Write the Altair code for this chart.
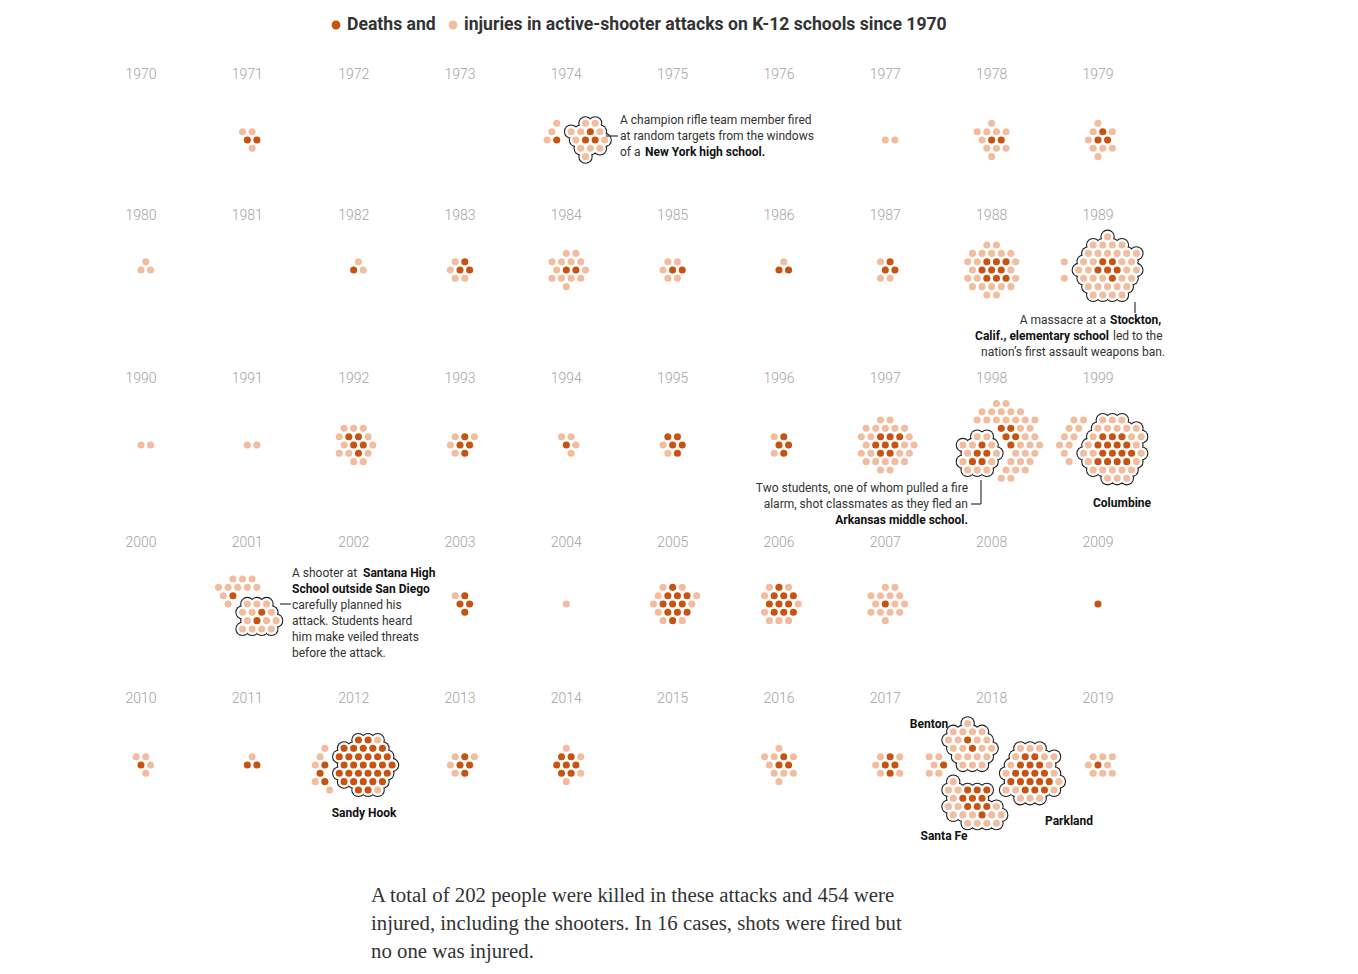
import math
import altair as alt
import pandas as pd

# ---------------- data ----------------
years = list(range(1970, 2020))
# deaths / injuries of the attacks that are not singled out, per year
deaths = [0, 2, 0, 0, 1, 0, 0, 0, 2, 3,
          0, 0, 1, 3, 2, 2, 2, 3, 9, 0,
          0, 0, 5, 4, 1, 5, 4, 8, 5, 0,
          0, 1, 0, 4, 0, 11, 10, 1, 0, 1,
          1, 2, 3, 4, 7, 0, 3, 4, 1, 1]
injuries = [0, 3, 0, 0, 3, 0, 0, 2, 10, 8,
            3, 0, 2, 4, 13, 5, 1, 3, 22, 2,
            2, 2, 12, 4, 4, 2, 2, 24, 32, 10,
            0, 10, 0, 1, 1, 9, 8, 14, 0, 0,
            4, 1, 5, 4, 4, 0, 9, 5, 5, 8]
# highlighted attacks
hl_names = ["Olean", "Stockton", "Jonesboro", "Columbine", "Santana",
            "Sandy Hook", "Benton", "Parkland", "Santa Fe"]
hl_years = [1974, 1989, 1998, 1999, 2001, 2012, 2018, 2018, 2018]
hl_deaths = [3, 6, 5, 15, 2, 32, 2, 17, 10]
hl_injuries = [11, 33, 12, 26, 13, 2, 20, 17, 16]

title_a = "Deaths and"
title_b = "injuries in active-shooter attacks on K-12 schools since 1970"
footer_lines = [
    "A total of 202 people were killed in these attacks and 454 were",
    "injured, including the shooters. In 16 cases, shots were fired but",
    "no one was injured.",
]

# ---------------- layout (positions / styles) ----------------
DARK = "#c8520f"
LIGHT = "#f2bc9f"
COL_X0, COL_DX = 141, 106.33
ROW_LABEL_Y = [75, 216, 379, 543, 699]
ROW_DOT_Y = [140, 270, 445, 604, 765]
S = 9.6
H = S * math.sqrt(3) / 2

hl_offset = {"Olean": (22, -2), "Stockton": (10, -2), "Jonesboro": (-13, 9),
             "Columbine": (15, 5), "Santana": (10, 13), "Sandy Hook": (10, 0),
             "Benton": (-21, -19), "Parkland": (39, 10), "Santa Fe": (-14, 32)}
other_offset = {1974: (-10, -5), 1989: (-24, 0), 1998: (11, -3), 1999: (-15, -5),
                2001: (-7, -9), 2012: (-21, 3), 2018: (-47, 0)}


def lattice(cx, cy, r=14):
    pts = []
    for j in range(-r, r + 1):
        for i in range(-r, r + 1):
            pts.append((cx + (i + 0.5 * (j % 2)) * S, cy + j * H))
    return pts


def place(pts, used, center, n, blocked, min_d):
    cand = []
    for p in pts:
        if p in used:
            continue
        if any(math.hypot(p[0] - q[0], p[1] - q[1]) < min_d for q in blocked):
            continue
        d = math.hypot(p[0] - center[0], p[1] - center[1])
        a = math.atan2(p[1] - center[1], p[0] - center[0])
        cand.append((round(d, 5), round(abs(a), 5), a, p))
    cand.sort()
    chosen = [c[3] for c in cand[:n]]
    used.update(chosen)
    return chosen


rows = []
labels = []
for idx, yr in enumerate(years):
    r, c = divmod(idx, 10)
    cx = COL_X0 + c * COL_DX
    cy = ROW_DOT_Y[r]
    labels.append({"x": cx, "y": ROW_LABEL_Y[r], "t": str(yr)})
    pts = lattice(cx, cy)
    used = set()
    hl_pts = []
    for k, name in enumerate(hl_names):
        if hl_years[k] != yr:
            continue
        ox, oy = hl_offset[name]
        ch = place(pts, used, (cx + ox, cy + oy), hl_deaths[k] + hl_injuries[k],
                   hl_pts, 2 * S - 0.1)
        for m, p in enumerate(ch):
            rows.append({"x": p[0], "y": p[1],
                         "kind": "death" if m < hl_deaths[k] else "injury",
                         "hl": True})
        hl_pts.extend(ch)
    n = deaths[idx] + injuries[idx]
    if n:
        ox, oy = other_offset.get(yr, (0, 0))
        ch = place(pts, used, (cx + ox, cy + oy), n, hl_pts, 1.5 * S)
        for m, p in enumerate(ch):
            rows.append({"x": p[0], "y": p[1],
                         "kind": "death" if m < deaths[idx] else "injury",
                         "hl": False})

dots = pd.DataFrame(rows)
hl_dots = dots[dots["hl"]]
labels_df = pd.DataFrame(labels)

# annotation text pieces: text, x, y, align, weight
notes = [
    ("A champion rifle team member fired", 620, 120, "left", "normal"),
    ("at random targets from the windows", 620, 136, "left", "normal"),
    ("of a", 620, 152, "left", "normal"),
    ("New York high school.", 645, 152, "left", "bold"),
    ("A massacre at a", 1106, 320, "right", "normal"),
    ("Stockton,", 1110, 320, "left", "bold"),
    ("Calif., elementary school", 1109, 336, "right", "bold"),
    ("led to the", 1113, 336, "left", "normal"),
    ("nation\u2019s first assault weapons ban.", 1165, 352, "right", "normal"),
    ("Two students, one of whom pulled a fire", 968, 488, "right", "normal"),
    ("alarm, shot classmates as they fled an", 968, 504, "right", "normal"),
    ("Arkansas middle school.", 968, 520, "right", "bold"),
    ("A shooter at", 292, 573, "left", "normal"),
    ("Santana High", 363, 573, "left", "bold"),
    ("School outside San Diego", 292, 589, "left", "bold"),
    ("carefully planned his", 292, 605, "left", "normal"),
    ("attack. Students heard", 292, 621, "left", "normal"),
    ("him make veiled threats", 292, 637, "left", "normal"),
    ("before the attack.", 292, 653, "left", "normal"),
    ("Columbine", 1122, 503, "center", "bold"),
    ("Sandy Hook", 364, 813, "center", "bold"),
    ("Benton", 929, 724, "center", "bold"),
    ("Santa Fe", 944, 836, "center", "bold"),
    ("Parkland", 1069, 821, "center", "bold"),
]
notes_df = pd.DataFrame(notes, columns=["t", "x", "y", "align", "weight"])

leaders = pd.DataFrame([
    {"x": 606, "x2": 618, "y": 136, "y2": 136},
    {"x": 1135, "x2": 1135, "y": 302, "y2": 313},
    {"x": 971, "x2": 981, "y": 504, "y2": 504},
    {"x": 981, "x2": 981, "y": 480, "y2": 504},
    {"x": 280, "x2": 291, "y": 604, "y2": 604},
])

title_dots = pd.DataFrame([{"x": 336, "y": 25, "kind": "death"},
                           {"x": 453, "y": 25, "kind": "injury"}])
title_txt = pd.DataFrame([{"x": 347, "y": 25, "t": title_a},
                          {"x": 464, "y": 25, "t": title_b}])
footer_df = pd.DataFrame([{"x": 371, "y": 896 + 28 * i, "t": t}
                          for i, t in enumerate(footer_lines)])

# ---------------- chart ----------------
xs = alt.Scale(domain=[8, 1350], nice=False, zero=False)
ys = alt.Scale(domain=[8, 966], nice=False, zero=False, reverse=True)
X = alt.X("x:Q", scale=xs, axis=None)
Y = alt.Y("y:Q", scale=ys, axis=None)
col = alt.Color("kind:N", scale=alt.Scale(domain=["death", "injury"],
                                          range=[DARK, LIGHT]), legend=None)

layers = []
layers.append(alt.Chart(hl_dots).mark_circle(size=math.pi * 8.1 ** 2, color="#1a1a1a",
                                             opacity=1).encode(x=X, y=Y))
layers.append(alt.Chart(hl_dots).mark_circle(size=math.pi * 6.9 ** 2, color="white",
                                             opacity=1).encode(x=X, y=Y))
layers.append(alt.Chart(dots).mark_circle(size=math.pi * 4.0 ** 2, opacity=1)
              .encode(x=X, y=Y, color=col))
layers.append(alt.Chart(leaders).mark_rule(color="#333", strokeWidth=1.2)
              .encode(x=X, y=Y, x2="x2:Q", y2="y2:Q"))
layers.append(alt.Chart(labels_df).mark_text(font="Roboto", fontSize=14, fontWeight=300,
                                             color="#a3a3a3", baseline="middle")
              .encode(x=X, y=Y, text="t:N"))
for (al, wt), sub in notes_df.groupby(["align", "weight"]):
    layers.append(alt.Chart(sub).mark_text(font="Roboto", fontSize=12, align=al,
                                           fontWeight=wt,
                                           color="#111" if wt == "bold" else "#333",
                                           baseline="middle")
                  .encode(x=X, y=Y, text="t:N"))
layers.append(alt.Chart(title_dots).mark_circle(size=math.pi * 5 ** 2, opacity=1)
              .encode(x=X, y=Y, color=col))
layers.append(alt.Chart(title_txt).mark_text(font="Roboto", fontSize=17.6, fontWeight="bold",
                                             align="left", baseline="middle", color="#333")
              .encode(x=X, y=Y, text="t:N"))
layers.append(alt.Chart(footer_df).mark_text(font="Liberation Serif", fontSize=20.8,
                                             align="left", baseline="middle", color="#333")
              .encode(x=X, y=Y, text="t:N"))

chart = alt.layer(*layers).properties(
    width=1342, height=958, padding=0, autosize="none"
).configure_view(stroke=None)

chart.save("out.html", embed_options={"renderer": "svg", "actions": False})
